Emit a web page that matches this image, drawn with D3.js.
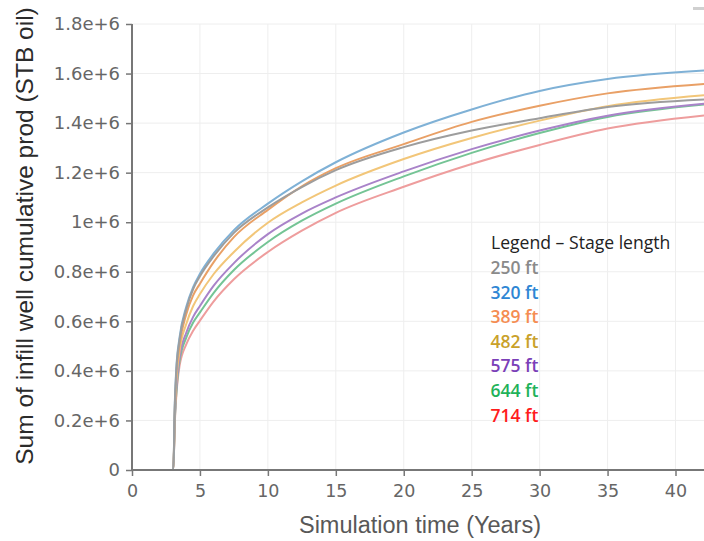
<!DOCTYPE html>
<html>
<head>
<meta charset="utf-8">
<script src="https://cdn.jsdelivr.net/npm/d3@7/dist/d3.min.js"></script>
<style>
  html, body { margin: 0; padding: 0; background: #fff; }
  svg { display: block; }
</style>
</head>
<body>
<svg id="chart" width="704" height="541"></svg>
<script>
// ---- data ----
const times = [0, 3.04, 3.15, 3.25, 3.5, 4, 4.5, 5, 6, 7.5, 10, 12.5, 15, 20, 25, 30, 35, 42.1];

const stageLengths = ["250 ft", "320 ft", "389 ft", "482 ft", "575 ft", "644 ft", "714 ft"];

const cum250 = [0, 0, 0.26e6, 0.39e6, 0.525e6, 0.65e6, 0.73e6, 0.782e6, 0.862e6, 0.957e6, 1.06e6, 1.142e6, 1.21e6, 1.303e6, 1.37e6, 1.42e6, 1.465e6, 1.495e6];
const cum320 = [0, 0, 0.27e6, 0.40e6, 0.535e6, 0.66e6, 0.738e6, 0.792e6, 0.873e6, 0.968e6, 1.075e6, 1.165e6, 1.242e6, 1.362e6, 1.455e6, 1.53e6, 1.578e6, 1.612e6];
const cum389 = [0, 0, 0.245e6, 0.37e6, 0.505e6, 0.63e6, 0.705e6, 0.752e6, 0.838e6, 0.94e6, 1.05e6, 1.145e6, 1.218e6, 1.315e6, 1.405e6, 1.47e6, 1.52e6, 1.558e6];
const cum482 = [0, 0, 0.225e6, 0.345e6, 0.48e6, 0.59e6, 0.662e6, 0.71e6, 0.79e6, 0.88e6, 0.998e6, 1.08e6, 1.148e6, 1.255e6, 1.34e6, 1.41e6, 1.468e6, 1.512e6];
const cum575 = [0, 0, 0.21e6, 0.32e6, 0.455e6, 0.555e6, 0.618e6, 0.662e6, 0.743e6, 0.835e6, 0.952e6, 1.035e6, 1.10e6, 1.205e6, 1.295e6, 1.37e6, 1.43e6, 1.478e6];
const cum644 = [0, 0, 0.20e6, 0.30e6, 0.44e6, 0.535e6, 0.595e6, 0.636e6, 0.714e6, 0.807e6, 0.92e6, 1.006e6, 1.075e6, 1.185e6, 1.28e6, 1.36e6, 1.425e6, 1.475e6];
const cum714 = [0, 0, 0.19e6, 0.29e6, 0.42e6, 0.508e6, 0.562e6, 0.603e6, 0.68e6, 0.77e6, 0.88e6, 0.966e6, 1.038e6, 1.143e6, 1.235e6, 1.312e6, 1.378e6, 1.431e6];

const yTickValues = [0, 0.2e6, 0.4e6, 0.6e6, 0.8e6, 1.0e6, 1.2e6, 1.4e6, 1.6e6, 1.8e6];
const yTickLabels = ["0", "0.2e+6", "0.4e+6", "0.6e+6", "0.8e+6", "1e+6", "1.2e+6", "1.4e+6", "1.6e+6", "1.8e+6"];
const xTickValues = [0, 5, 10, 15, 20, 25, 30, 35, 40];
const xTickLabels = ["0", "5", "10", "15", "20", "25", "30", "35", "40"];

const yTitle = "Sum of infill well cumulative prod (STB oil)";
const xTitle = "Simulation time (Years)";
const legendTitle = "Legend \u2013 Stage length";

// ---- styles ----
const lineColors = ["#9d9d9d", "#7fb1d6", "#e9a066", "#f2c679", "#a983c9", "#74c495", "#ee9d9d"];
const legendColors = ["#8a8a8a", "#2e86d4", "#f58d52", "#c9a12a", "#7b3fb8", "#1fb25a", "#ff1c1c"];
const drawOrder = [6, 5, 4, 3, 2, 1, 0];

const series = [cum250, cum320, cum389, cum482, cum575, cum644, cum714];

// ---- layout ----
const svg = d3.select("#chart");
const plotL = 132, plotR = 704, plotT = 24, plotB = 470;

const x = d3.scaleLinear().domain([0, 40]).range([plotL, 675.5]);
const y = d3.scaleLinear().domain([0, 1.8e6]).range([plotB, plotT]);

// gridlines
const grid = svg.append("g");
grid.selectAll("line.h").data(yTickValues.slice(1)).join("line")
  .attr("x1", plotL).attr("x2", plotR)
  .attr("y1", d => y(d)).attr("y2", d => y(d))
  .attr("stroke", "#eeeeee").attr("stroke-width", 1);
grid.selectAll("line.v").data(xTickValues.slice(1)).join("line")
  .attr("x1", d => x(d)).attr("x2", d => x(d))
  .attr("y1", plotT).attr("y2", plotB)
  .attr("stroke", "#eeeeee").attr("stroke-width", 1);

// lines
svg.append("clipPath").attr("id", "plotclip")
  .append("rect").attr("x", plotL).attr("y", plotT - 5).attr("width", plotR - plotL).attr("height", plotB - plotT + 6);

const line = d3.line()
  .x((d, i) => x(times[i]))
  .y(d => y(d))
  .curve(d3.curveMonotoneX);

const linesG = svg.append("g").attr("clip-path", "url(#plotclip)");
drawOrder.forEach(k => {
  linesG.append("path")
    .datum(series[k])
    .attr("d", line)
    .attr("fill", "none")
    .attr("stroke", lineColors[k])
    .attr("stroke-width", 2)
    .attr("stroke-linejoin", "round");
});

// axes
const tickFont = "'DejaVu Sans', Verdana, sans-serif";
const yAxis = d3.axisLeft(y).tickValues(yTickValues)
  .tickFormat((d, i) => yTickLabels[i]).tickSize(6).tickPadding(6);
const xAxis = d3.axisBottom(x).tickValues(xTickValues)
  .tickFormat((d, i) => xTickLabels[i]).tickSize(6).tickPadding(9);

const gy = svg.append("g").attr("transform", `translate(${plotL},0)`).call(yAxis);
const gx = svg.append("g").attr("transform", `translate(0,${plotB})`).call(xAxis);

[gx, gy].forEach(g => {
  g.select(".domain").remove();
  g.selectAll(".tick line").attr("stroke", "#777").attr("stroke-width", 1.5);
  g.selectAll(".tick text").attr("fill", "#666").style("font-family", tickFont);
});
gy.selectAll(".tick text").style("font-size", "18px");
gx.selectAll(".tick text").style("font-size", "17.5px");

// axis lines
svg.append("line").attr("x1", plotL).attr("x2", plotL).attr("y1", plotT).attr("y2", plotB + 0.75)
  .attr("stroke", "#777").attr("stroke-width", 2);
svg.append("line").attr("x1", plotL - 0.75).attr("x2", plotR).attr("y1", plotB).attr("y2", plotB)
  .attr("stroke", "#777").attr("stroke-width", 2);

// axis titles
svg.append("text")
  .attr("transform", "translate(33,236) rotate(-90)")
  .attr("text-anchor", "middle")
  .style("font-family", "'Liberation Sans', Arial, sans-serif")
  .style("font-size", "24.5px")
  .attr("fill", "#2b2b2b")
  .text(yTitle);

svg.append("text")
  .attr("x", 420).attr("y", 533)
  .attr("text-anchor", "middle")
  .style("font-family", "'Liberation Sans', Arial, sans-serif")
  .style("font-size", "23.5px")
  .attr("fill", "#585858")
  .text(xTitle);

// legend
const legendFont = "'Open Sans', sans-serif";
svg.append("text")
  .attr("x", 491).attr("y", 248.5)
  .style("font-family", legendFont).style("font-size", "17.6px")
  .attr("fill", "#222")
  .text(legendTitle);

svg.append("g").selectAll("text").data(stageLengths).join("text")
  .attr("x", 490.5)
  .attr("y", (d, i) => 274 + i * 24.6)
  .style("font-family", legendFont).style("font-size", "17.5px").style("font-weight", 600)
  .attr("fill", (d, i) => legendColors[i])
  .text(d => d);

// modebar remnant in top-right corner
svg.append("rect").attr("x", 693).attr("y", 7).attr("width", 11).attr("height", 3).attr("fill", "#d0d0d0");
</script>
</body>
</html>
